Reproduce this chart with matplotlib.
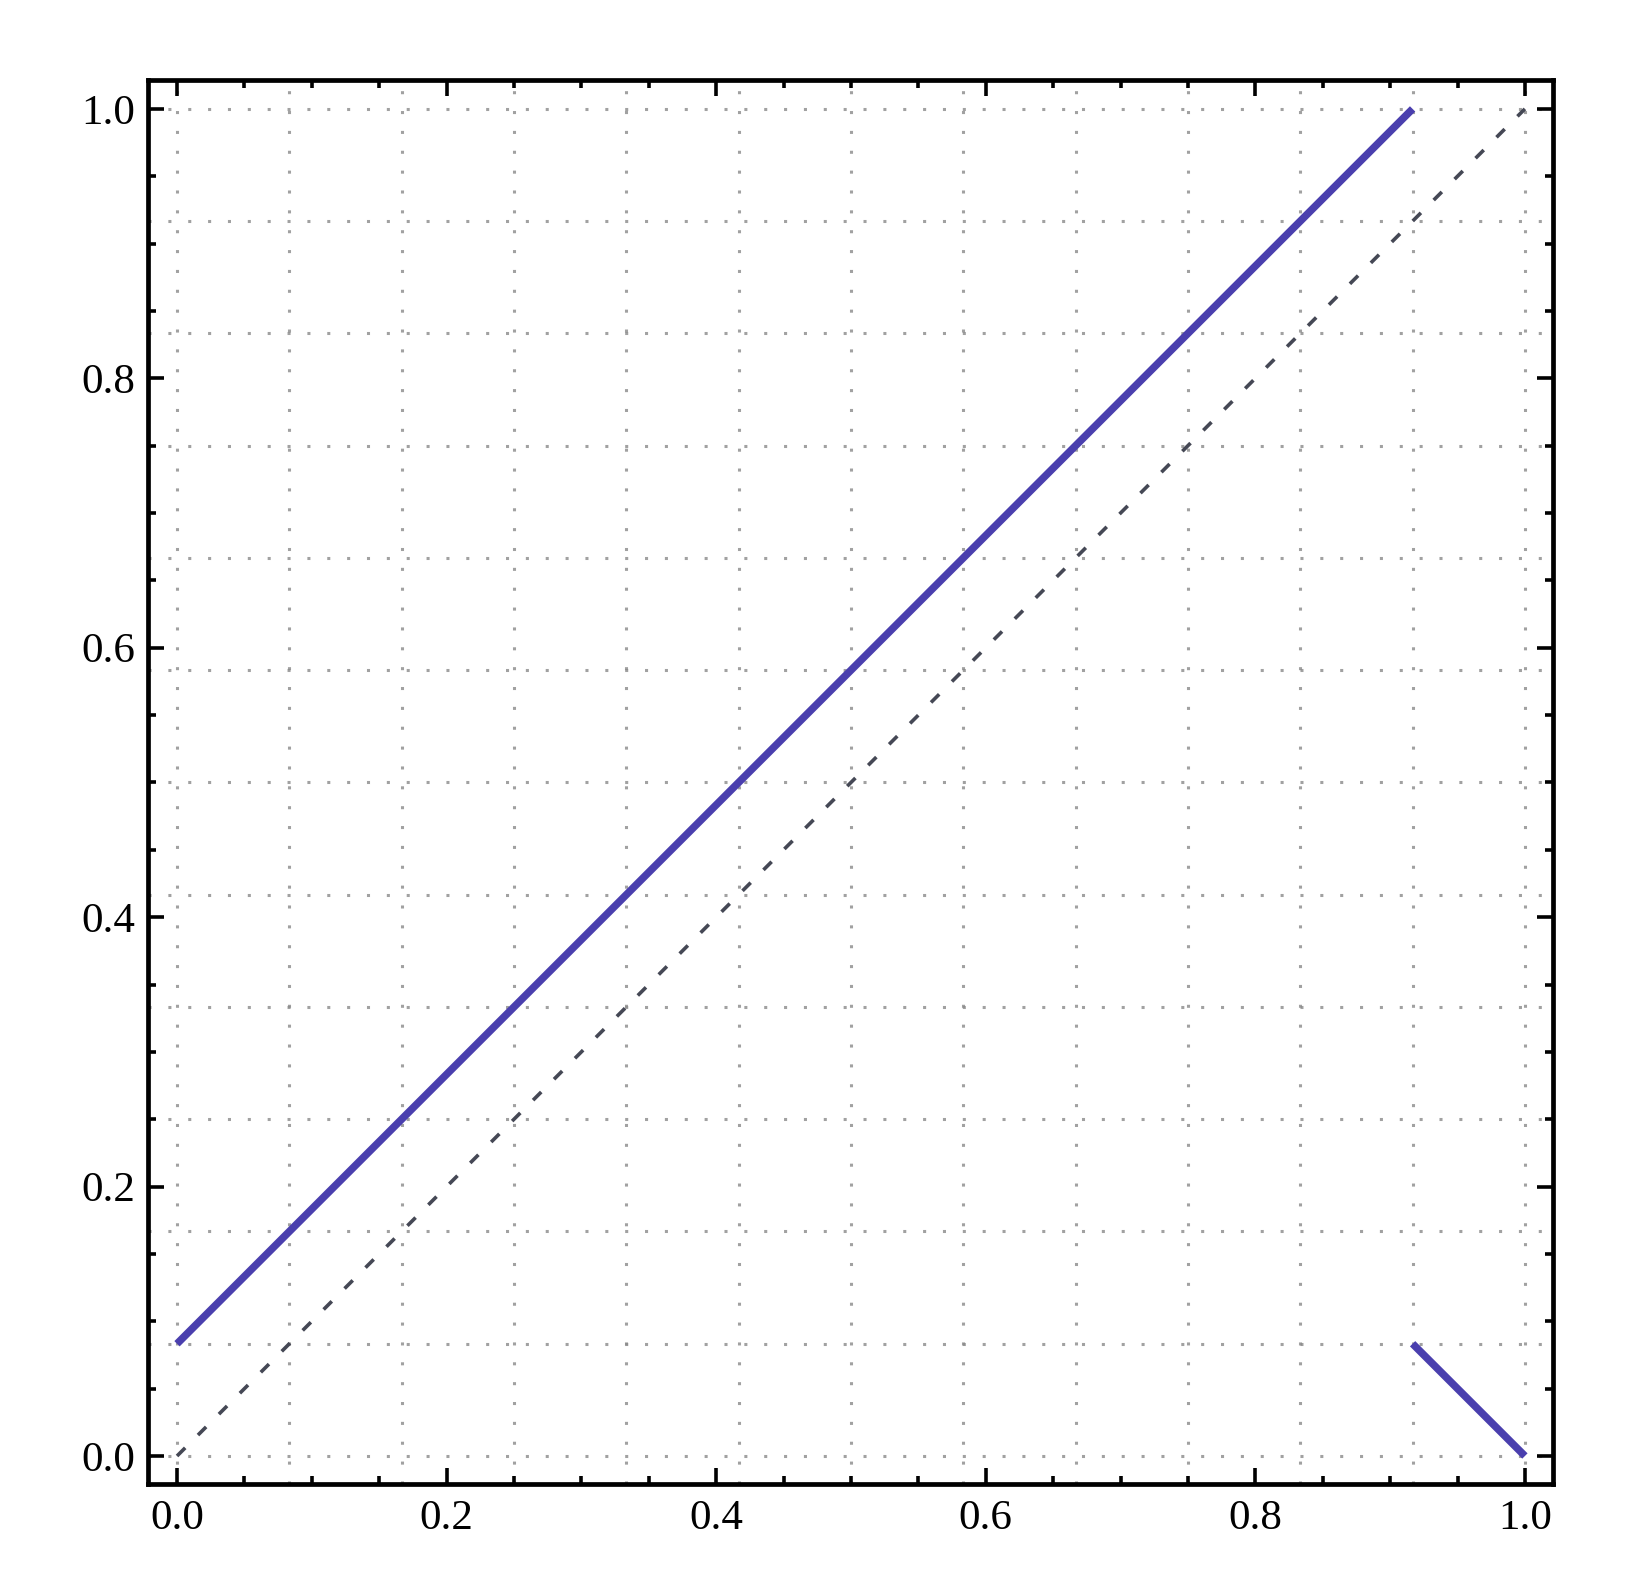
"""
Piecewise line on the unit square, with the diagonal for reference
"""

import numpy as np
import matplotlib
matplotlib.use("Agg")
import matplotlib.pyplot as plt
from matplotlib.ticker import MultipleLocator

plt.rcParams['font.family'] = ['Liberation Serif', 'DejaVu Serif']

# Data
seg1_x = [0.0, 11 / 12]
seg1_y = [1 / 12, 1.0]
seg2_x = [11 / 12, 1.0]
seg2_y = [1 / 12, 0.0]
diag_x = [0.0, 1.0]
diag_y = [0.0, 1.0]
grid_pos = [k / 12 for k in range(13)]
tick_vals = [0.0, 0.2, 0.4, 0.6, 0.8, 1.0]
tick_labels = ['0.0', '0.2', '0.4', '0.6', '0.8', '1.0']

fig = plt.figure(figsize=(16.34, 15.86), dpi=100)
ax = fig.add_axes([0.0906, 0.0643, 0.8598, 0.8853])

# dotted grid at twelfths
for g in grid_pos:
    ax.axvline(g, color='#8a8a8a', lw=2.2, dashes=(1, 5.5), alpha=0.8, zorder=1)
    ax.axhline(g, color='#8a8a8a', lw=2.2, dashes=(1, 5.5), alpha=0.8, zorder=1)

ax.plot(diag_x, diag_y, color='#454855', lw=2.6, dashes=(3.2, 5.0), zorder=2)
ax.plot(seg1_x, seg1_y, color='#4a3fae', lw=5.4, solid_capstyle='butt', zorder=3)
ax.plot(seg2_x, seg2_y, color='#4a3fae', lw=5.4, solid_capstyle='butt', zorder=3)

ax.set_xlim(-0.0215, 1.0208)
ax.set_ylim(-0.0208, 1.0215)

ax.set_xticks(tick_vals)
ax.set_xticklabels(tick_labels)
ax.set_yticks(tick_vals)
ax.set_yticklabels(tick_labels)
ax.xaxis.set_minor_locator(MultipleLocator(0.05))
ax.yaxis.set_minor_locator(MultipleLocator(0.05))

ax.tick_params(which='both', direction='in', top=True, right=True, width=2.6)
ax.tick_params(which='major', length=11.5, labelsize=31)
ax.tick_params(axis='x', which='major', pad=11)
ax.tick_params(axis='y', which='major', pad=9)
ax.tick_params(which='minor', length=6)

for s in ax.spines.values():
    s.set_linewidth(3.4)

plt.savefig('out.png', dpi=100)
